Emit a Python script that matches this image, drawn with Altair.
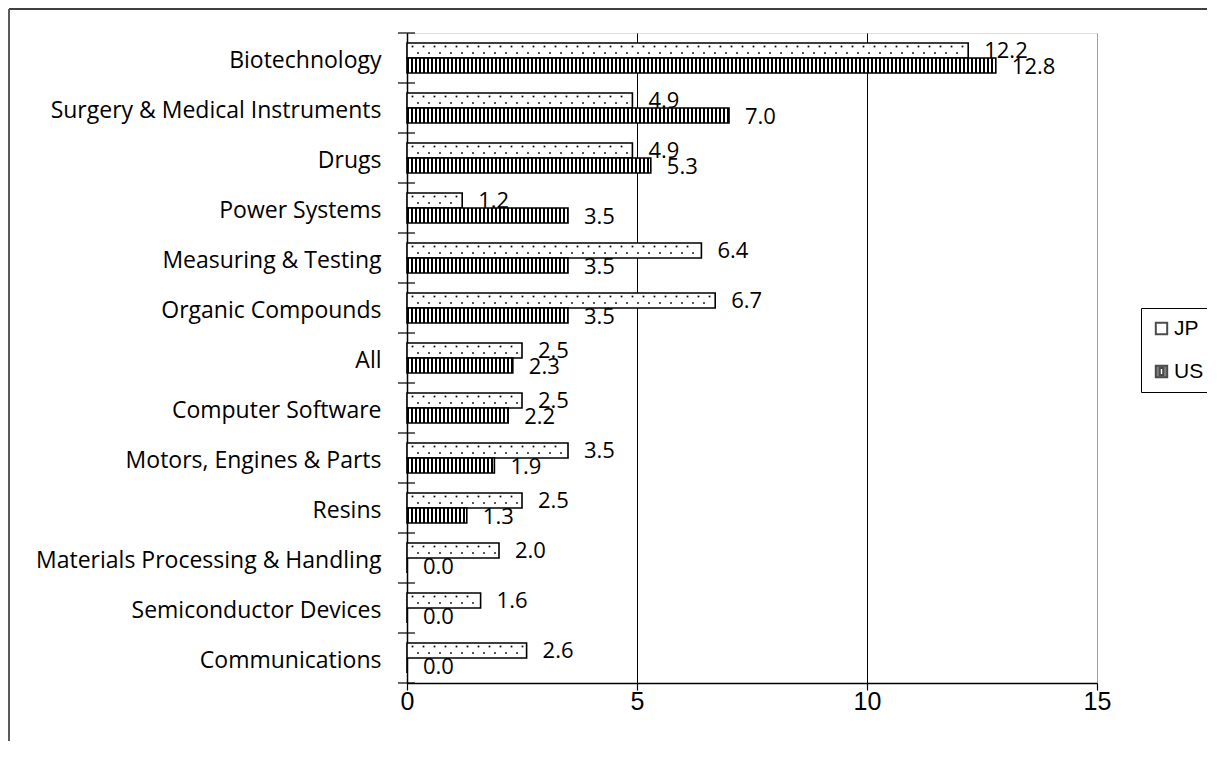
import altair as alt
import pandas as pd
import numpy as np

# ---------------- data ----------------
categories = [
    "Biotechnology",
    "Surgery & Medical Instruments",
    "Drugs",
    "Power Systems",
    "Measuring & Testing",
    "Organic Compounds",
    "All",
    "Computer Software",
    "Motors, Engines & Parts",
    "Resins",
    "Materials Processing & Handling",
    "Semiconductor Devices",
    "Communications",
]
jp_values = [12.2, 4.9, 4.9, 1.2, 6.4, 6.7, 2.5, 2.5, 3.5, 2.5, 2.0, 1.6, 2.6]
us_values = [12.8, 7.0, 5.3, 3.5, 3.5, 3.5, 2.3, 2.2, 1.9, 1.3, 0.0, 0.0, 0.0]
series_names = ["JP", "US"]
x_ticks = [0, 5, 10, 15]

rows = []
for c, j, u in zip(categories, jp_values, us_values):
    rows.append({"category": c, "series": "JP", "value": j})
    rows.append({"category": c, "series": "US", "value": u})
df = pd.DataFrame(rows)

# ---------------- fill patterns (style only, derived from the values) ----------------
W, H = 690, 650
PX = W / 15.0                  # pixels per unit
STRIPE_STEP = 4 / PX
STRIPE_W = 2 / PX
DOT_STEP = 11 / PX

stripe_rows = []
for c, u in zip(categories, us_values):
    for x0 in np.arange(0.0, u - 1e-9, STRIPE_STEP):
        stripe_rows.append({"category": c, "series": "US", "x0": float(x0),
                            "x1": float(min(x0 + STRIPE_W, u))})
stripes_df = pd.DataFrame(stripe_rows)

dot_rows_a, dot_rows_b = [], []
for c, j in zip(categories, jp_values):
    for x0 in np.arange(DOT_STEP / 2, j - 3 / PX, DOT_STEP):
        dot_rows_a.append({"category": c, "x": float(x0)})
    for x0 in np.arange(DOT_STEP, j - 3 / PX, DOT_STEP):
        dot_rows_b.append({"category": c, "x": float(x0)})
dots_a = pd.DataFrame(dot_rows_a)
dots_b = pd.DataFrame(dot_rows_b)

# ---------------- scales / axes ----------------
x_scale = alt.Scale(domain=[0, 15], nice=False, zero=True)
y_scale = alt.Scale(domain=categories, paddingInner=0, paddingOuter=0)
yoff_scale = alt.Scale(domain=series_names, paddingInner=0, paddingOuter=0.6667)

x_axis = alt.Axis(
    values=x_ticks, grid=True,
    gridColor={"condition": {"test": "datum.value === 15", "value": "#a0a0a0"}, "value": "black"},
    gridWidth=1, domainColor="black", domainWidth=1.5,
    tickColor="black", tickSize=7, tickWidth=1.2,
    labelFont="Liberation Sans", labelFontSize=25, labelColor="black",
    labelPadding=-1, labelFlush=False, labelOverlap=False, title=None, format="d",
)
y_axis = alt.Axis(
    ticks=False, grid=False, domainColor="black", domainWidth=1.5,
    labelFont="Open Sans", labelFontSize=23, labelColor="black",
    labelPadding=26, labelLimit=500, labelOffset=3, title=None,
)


def X(field):
    return alt.X(field, type="quantitative", scale=x_scale, axis=x_axis)


def Y(band=None):
    if band is None:
        return alt.Y("category:N", scale=y_scale, axis=y_axis, sort=categories)
    return alt.Y("category:N", scale=y_scale, axis=y_axis, sort=categories, bandPosition=band)


# ---------------- layers ----------------
label_font = dict(font="Open Sans", fontSize=22, color="black", align="left", baseline="middle", dx=16)

labels_jp = alt.Chart(df).transform_filter("datum.series === 'JP'").mark_text(**label_font).encode(
    x=X("value"), y=Y(0.35), text=alt.Text("value:Q", format=".1f"))
labels_us = alt.Chart(df).transform_filter("datum.series === 'US'").mark_text(**label_font).encode(
    x=X("value"), y=Y(0.67), text=alt.Text("value:Q", format=".1f"))

bars = alt.Chart(df).mark_bar(fill="white", stroke="black", strokeWidth=1.6).encode(
    x=X("value"), y=Y(),
    yOffset=alt.YOffset("series:N", scale=yoff_scale),
)

stripes = alt.Chart(stripes_df).mark_bar(color="black").encode(
    x=X("x0"), x2="x1", y=Y(),
    yOffset=alt.YOffset("series:N", scale=yoff_scale),
)

dots_layer_a = alt.Chart(dots_a).mark_square(size=3, color="black", opacity=1).encode(
    x=X("x"), y=Y(0.27))
dots_layer_b = alt.Chart(dots_b).mark_square(size=3, color="black", opacity=1).encode(
    x=X("x"), y=Y(0.40))

ticks_df = pd.DataFrame({"category": categories})
tick_rules = alt.Chart(ticks_df).mark_rule(color="black", strokeWidth=1.2).encode(
    y=Y(0), x=alt.value(-9), x2=alt.value(8))
tick_last = alt.Chart(ticks_df.tail(1)).mark_rule(color="black", strokeWidth=1.2).encode(
    y=Y(1), x=alt.value(-9), x2=alt.value(8))

# outer chart-area frame (top and left edges visible)
frame_top = alt.Chart(ticks_df.head(1)).mark_rule(color="black", strokeWidth=1.5).encode(
    x=alt.value(-398), x2=alt.value(W + 110), y=alt.value(-24))
frame_left = alt.Chart(ticks_df.head(1)).mark_rule(color="#5a5a5a", strokeWidth=2).encode(
    x=alt.value(-398), y=alt.value(-24), y2=alt.value(H + 58))

# legend (carrier points sit outside the canvas; only the legend shows)
jp_path = "M-1,-1H1V1H-1Z"
us_path = "M-1,-1H1V1H-1Z M-0.3,-0.62V0.62H0.3V-0.62Z"
legend_cfg = alt.Legend(
    title=None, orient="none", legendX=734, legendY=275,
    labelFont="Liberation Sans", labelFontSize=21, labelColor="black",
    symbolSize=130, symbolStrokeColor="black", symbolStrokeWidth=2,
    padding=10, rowPadding=21, labelOffset=2,
    strokeColor="black", fillColor="white",
)
legend_df = pd.DataFrame({"series": series_names})
legend_layer = alt.Chart(legend_df).mark_point(filled=True, strokeWidth=2, size=130).encode(
    x=alt.value(-3000), y=alt.value(-3000),
    shape=alt.Shape("series:N", scale=alt.Scale(domain=series_names, range=[jp_path, us_path]), legend=legend_cfg),
    fill=alt.Fill("series:N", scale=alt.Scale(domain=series_names, range=["white", "black"]), legend=legend_cfg),
    stroke=alt.Stroke("series:N", scale=alt.Scale(domain=series_names, range=["black", "black"]), legend=legend_cfg),
)

chart = alt.layer(
    labels_jp, labels_us, bars, stripes, dots_layer_a, dots_layer_b,
    tick_rules, tick_last, frame_top, frame_left, legend_layer,
).properties(
    width=W, height=H,
    padding={"left": 399, "top": 25, "right": 110, "bottom": 58},
    autosize="none",
).configure_view(
    stroke="#a0a0a0", strokeWidth=2,
).configure(background="white")

chart.save("out.html", embed_options={"renderer": "svg", "actions": False})
